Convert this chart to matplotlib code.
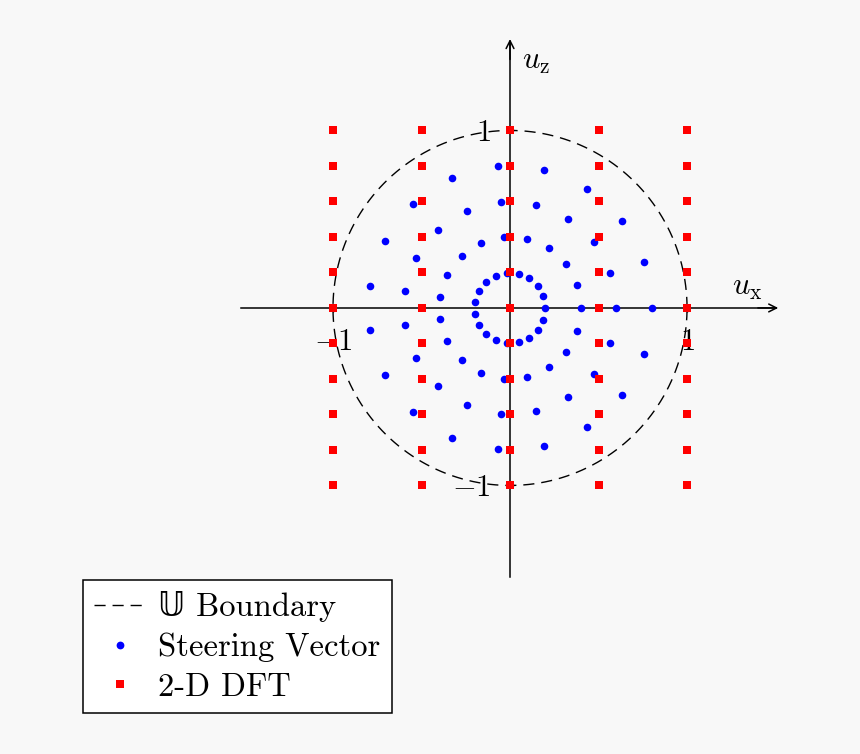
import numpy as np
import matplotlib
matplotlib.use("Agg")
import matplotlib.pyplot as plt
from matplotlib.lines import Line2D

plt.rcParams['mathtext.fontset'] = 'cm'
plt.rcParams['font.family'] = ['cmr10', 'DejaVu Sans']
plt.rcParams['axes.unicode_minus'] = False

# ---- data ----
# steering-vector points: rings (radius) x angles (deg)
ring_radii = [0.2, 0.4, 0.6, 0.8]
ring_angles_deg = [0, 19, 38, 57, 76, 95, 114, 133, 152, 171,
                   189, 208, 227, 246, 265, 284, 303, 322, 341]
# 2-D DFT grid
dft_ux = [-1.0, -0.5, 0.0, 0.5, 1.0]
dft_uz = [1.0, 0.8, 0.6, 0.4, 0.2, 0.0, -0.2, -0.4, -0.6, -0.8, -1.0]
# axis ticks
tick_vals = [-1, 1]
tick_labels = ['$-1$', '$1$']
legend_labels = ['\U0001D54C Boundary', 'Steering Vector', '2-D DFT']

fig = plt.figure(figsize=(8.6, 7.54), dpi=100)
fig.patch.set_facecolor('#f8f8f8')
ax = fig.add_axes([0, 0, 1, 1])
ax.set_facecolor('none')
ax.set_xlim(-2.881, 1.977)
ax.set_ylim(-2.513, 1.735)

DASH = (0, (8, 5))

# unit circle boundary
th = np.linspace(0, 2 * np.pi, 400)
circ, = ax.plot(np.cos(th), np.sin(th), color='black', lw=1.0,
                linestyle=DASH, zorder=2)

# steering vectors
R, A = np.meshgrid(ring_radii, np.deg2rad(ring_angles_deg))
sv = ax.scatter((R * np.cos(A)).ravel(), (R * np.sin(A)).ravel(),
                s=30, color='#0000ff', linewidths=0, zorder=4)

# DFT grid
UX, UZ = np.meshgrid(dft_ux, dft_uz)
dft = ax.scatter(UX.ravel(), UZ.ravel(), s=38, marker='s',
                 color='#ff0000', linewidths=0, zorder=5)

# axes through origin
for side in ['top', 'right']:
    ax.spines[side].set_visible(False)
ax.spines['left'].set_position(('data', 0))
ax.spines['bottom'].set_position(('data', 0))
ax.spines['bottom'].set_bounds(-1.52, 1.50)
ax.spines['left'].set_bounds(-1.515, 1.50)
for side in ['left', 'bottom']:
    ax.spines[side].set_linewidth(1.1)
    ax.spines[side].set_zorder(3)
ax.annotate('', xy=(1.515, 0), xytext=(1.40, 0),
            arrowprops=dict(arrowstyle='->', lw=1.1, color='black',
                            shrinkA=0, shrinkB=0, mutation_scale=14))
ax.annotate('', xy=(0, 1.515), xytext=(0, 1.40),
            arrowprops=dict(arrowstyle='->', lw=1.1, color='black',
                            shrinkA=0, shrinkB=0, mutation_scale=14))

ax.set_xticks(tick_vals)
ax.set_xticklabels(tick_labels)
ax.set_yticks(tick_vals)
ax.set_yticklabels(tick_labels)
ax.tick_params(axis='both', direction='inout', length=6, width=1.0,
               labelsize=22)
ax.tick_params(axis='x', pad=12)
ax.tick_params(axis='y', pad=11)

ax.text(1.255, 0.075, r'$u_{\mathrm{x}}$', fontsize=22, ha='left', va='baseline')
ax.text(0.07, 1.35, r'$u_{\mathrm{z}}$', fontsize=22, ha='left', va='baseline')

# legend
h_sv = Line2D([], [], linestyle='none', marker='o', markersize=5.6,
              color='#0000ff', markeredgewidth=0)
h_dft = Line2D([], [], linestyle='none', marker='s', markersize=6,
               color='#ff0000', markeredgewidth=0)
h_c = Line2D([], [], color='black', lw=1.0, linestyle=DASH)
leg = ax.legend([h_c, h_sv, h_dft], legend_labels,
                loc='lower left', bbox_to_anchor=(0.0965, 0.0544),
                bbox_transform=fig.transFigure, borderaxespad=0,
                fancybox=False, framealpha=1, edgecolor='black',
                fontsize=23.5, handlelength=1.55, handletextpad=0.4,
                labelspacing=0.32, borderpad=0.35)
leg.get_frame().set_linewidth(1.1)
leg.set_zorder(10)

fig.savefig('out.png', dpi=100, facecolor=fig.get_facecolor())
